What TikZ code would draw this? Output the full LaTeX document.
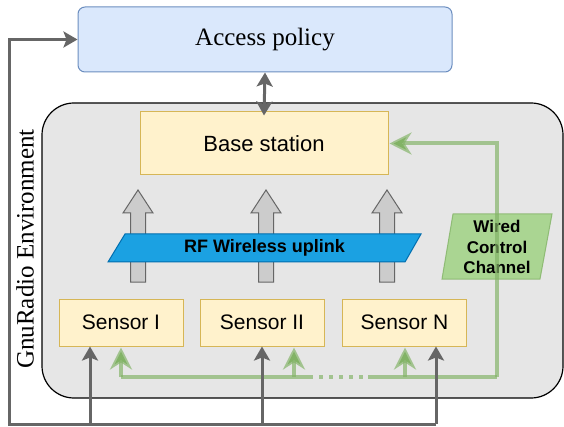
\documentclass[tikz,border=0pt]{standalone}
\usepackage{fontspec}
\setmainfont{Liberation Serif}
\setsansfont{Liberation Sans}
\usetikzlibrary{arrows.meta}

\definecolor{apfill}{HTML}{DAE8FC}
\definecolor{apline}{HTML}{6C8EBF}
\definecolor{envfill}{HTML}{E6E6E6}
\definecolor{bsfill}{HTML}{FFF2CC}
\definecolor{bsline}{HTML}{D6B656}
\definecolor{rffill}{HTML}{1BA1E2}
\definecolor{rfline}{HTML}{006EAF}
\definecolor{greyline}{HTML}{666666}
\definecolor{blockfill}{HTML}{CCCCCC}
\definecolor{wline}{HTML}{82B366}
\definecolor{wfill}{HTML}{97D077}

\tikzset{
  policybox/.style={draw=apline, fill=apfill, line width=1pt, rounded corners=7pt,
    minimum width=374pt, minimum height=65pt, font=\fontsize{25}{29}\selectfont},
  stationbox/.style={draw=bsline, fill=bsfill, line width=1pt,
    minimum width=248pt, minimum height=63pt, font=\sffamily\fontsize{22}{26}\selectfont},
  sensorbox/.style={draw=bsline, fill=bsfill, line width=1pt,
    minimum width=124pt, minimum height=47pt, font=\sffamily\fontsize{21}{25}\selectfont},
  greyarrow/.style={draw=greyline, line width=3pt,
    -{Stealth[length=14pt, width=16pt, inset=3pt]}},
  greenline/.style={draw=wline, draw opacity=0.68, line width=4pt},
  greenarrow/.style={greenline, -{Stealth[length=22pt, width=22pt, inset=7pt]}, shorten >=1pt},
  blockarrow/.style={draw=greyline, fill=blockfill, line width=1pt},
}

\begin{document}
\begin{tikzpicture}[x=1pt, y=-1pt]
\useasboundingbox (0,0) rectangle (564,427);

% simulation environment container
\draw[fill=envfill, line width=1.2pt, rounded corners=32pt] (42,103) rectangle (563,398);
\node[rotate=90, font=\fontsize{25}{29}\selectfont] (envlabel) at (25,249) {GnuRadio Environment};

% top-level blocks
\node[policybox] (ap) at (265,39.5) {Access policy};
\node[stationbox] (bs) at (264,143.5) {Base station};

% sensors
\node[sensorbox] (s1) at (121,322.5) {Sensor I};
\node[sensorbox] (s2) at (262,322.5) {Sensor II};
\node[sensorbox] (s3) at (404.5,322.5) {Sensor N};

% uplink block arrows
\foreach \cx in {138,266,387} {
  \draw[blockarrow] (\cx-7.5,282) -- (\cx-7.5,213) -- (\cx-15,213) -- (\cx,190)
    -- (\cx+15,213) -- (\cx+7.5,213) -- (\cx+7.5,282) -- cycle;
}

% RF uplink band
\draw[fill=rffill, draw=rfline, line width=1pt]
  (108,262) -- (125,234) -- (421,234) -- (405,262) -- cycle;
\node[font=\sffamily\bfseries\fontsize{18}{21}\selectfont] (rf) at (264.5,248) {RF Wireless uplink};

% wired control channel label
\draw[fill=wfill, fill opacity=0.75, draw=wline, draw opacity=0.8, line width=1pt]
  (442,279) -- (453,214) -- (552,214) -- (540,279) -- cycle;
\node[align=center, font=\sffamily\bfseries\fontsize{17}{20.5}\selectfont] (wcc) at (497,247)
  {Wired\\Control\\Channel};

% wired control loop
\coordinate (c1) at (121,377);
\coordinate (c2) at (294,377);
\coordinate (c3) at (405,377);
\coordinate (d1) at (309,377);
\coordinate (d2) at (368,377);
\coordinate (corner) at (497,377);
\draw[greenline] (c1) -- (d1);
\draw[greenline, dash pattern=on 3.5pt off 6.5pt] (d1) -- (d2);
\draw[greenline] (d2) -- (corner);
\draw[greenarrow] (corner) |- (bs.east);
\draw[greenarrow] (c1) -- (c1 |- s1.south);
\draw[greenarrow] (c2) -- (c2 |- s2.south);
\draw[greenarrow] (c3) -- (c3 |- s3.south);

% policy feedback to sensors
\draw[greyarrow, {Stealth[length=14pt, width=16pt, inset=3pt]}-{Stealth[length=14pt, width=16pt, inset=3pt]}]
  (ap.south) -- ([yshift=-4pt]bs.north);
\coordinate (g1) at (90,424);
\coordinate (g2) at (262,424);
\coordinate (g3) at (436,424);
\draw[greyarrow] (g3) -- (9,424) |- (ap.west);
\draw[greyarrow] (g1) -- (g1 |- s1.south);
\draw[greyarrow] (g2) -- (g2 |- s2.south);
\draw[greyarrow] (g3) -- (g3 |- s3.south);
\end{tikzpicture}
\end{document}
